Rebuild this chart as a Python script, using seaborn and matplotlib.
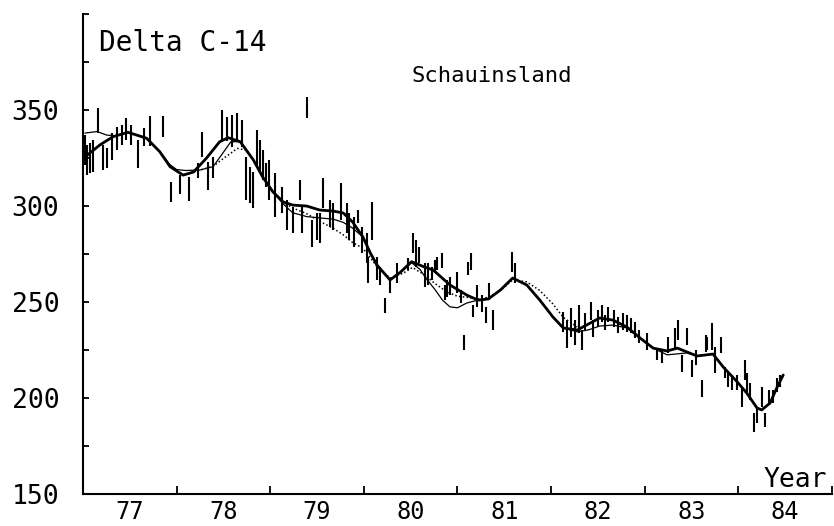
import numpy as np
import pandas as pd
import matplotlib
matplotlib.use("Agg")
import matplotlib.pyplot as plt
import seaborn as sns

# measured samples: year, delta C-14, half length of the bar
obs_year = [77.02, 77.04, 77.07, 77.11, 77.16, 77.21, 77.26, 77.31, 77.36, 77.42,
            77.46, 77.51, 77.59, 77.65, 77.72, 77.85, 77.94, 78.04, 78.13, 78.23,
            78.27, 78.34, 78.39, 78.49, 78.54, 78.59, 78.65, 78.70, 78.74, 78.78,
            78.82, 78.86, 78.89, 78.92, 78.96, 78.99, 79.05, 79.13, 79.18, 79.24,
            79.32, 79.34, 79.39, 79.45, 79.50, 79.53, 79.56, 79.64, 79.67, 79.76,
            79.82, 79.84, 79.89, 79.94, 79.98, 80.03, 80.09, 80.04, 80.14, 80.17,
            80.23, 80.28, 80.35, 80.47, 80.53, 80.56, 80.59, 80.65, 80.69, 80.73,
            80.76, 80.78, 80.84, 80.87, 80.89, 80.92, 81.00, 81.04, 81.07, 81.11,
            81.14, 81.17, 81.21, 81.26, 81.31, 81.34, 81.38, 81.58, 81.62, 82.13,
            82.17, 82.21, 82.26, 82.30, 82.33, 82.36, 82.43, 82.45, 82.50, 82.54,
            82.58, 82.61, 82.67, 82.72, 82.77, 82.81, 82.85, 82.90, 82.94, 83.03,
            83.13, 83.18, 83.25, 83.32, 83.36, 83.40, 83.45, 83.51, 83.55, 83.61,
            83.65, 83.67, 83.72, 83.75, 83.81, 83.86, 83.89, 83.93, 83.99, 84.04,
            84.07, 84.09, 84.13, 84.17, 84.20, 84.25, 84.29, 84.33, 84.37, 84.41,
            84.45]
obs_delta = [329.2, 324.0, 325.0, 326.1, 344.5, 325.3, 325.0, 331.0, 335.2, 337.0,
             340.1, 337.0, 327.1, 336.0, 339.1, 341.4, 307.3, 311.2, 308.9, 318.5,
             332.0, 315.6, 320.1, 342.2, 340.1, 339.1, 340.9, 337.8, 314.3, 310.9,
             308.3, 330.0, 325.8, 321.4, 316.2, 313.5, 305.7, 303.1, 295.3, 292.7,
             308.3, 292.7, 351.3, 285.7, 289.3, 288.5, 306.8, 296.1, 294.5, 302.4,
             293.8, 289.3, 286.5, 294.5, 282.3, 278.1, 292.2, 266.7, 267.5, 263.5,
             248.2, 258.6, 265.1, 269.8, 280.7, 275.3, 274.5, 264.1, 264.6, 264.9,
             268.5, 270.1, 271.6, 254.9, 257.0, 258.3, 260.2, 252.9, 228.9, 267.5,
             271.1, 245.3, 253.1, 249.2, 243.2, 255.5, 240.6, 270.9, 265.1, 239.6,
             233.3, 239.3, 234.1, 241.2, 230.2, 239.9, 245.3, 236.2, 241.4, 244.0,
             239.3, 243.5, 241.4, 238.0, 239.9, 238.8, 237.8, 235.4, 232.0, 229.4,
             222.9, 221.6, 227.6, 230.7, 235.4, 218.0, 232.0, 215.4, 221.1, 205.0,
             228.4, 228.4, 232.0, 219.8, 227.6, 213.3, 209.4, 208.1, 208.1, 200.5,
             214.6, 207.8, 203.4, 187.3, 191.2, 200.5, 188.6, 200.8, 200.8, 206.8,
             208.9]
obs_err = [7.8, 7.8, 7.8, 8.3, 6.5, 6.5, 5.2, 7.0, 6.0, 5.2,
           5.7, 5.2, 7.3, 4.7, 7.8, 5.5, 5.2, 4.9, 6.3, 3.9,
           6.5, 7.3, 5.5, 7.8, 6.3, 8.3, 7.6, 7.0, 11.2, 9.4,
           9.4, 9.6, 8.6, 7.8, 6.3, 10.4, 11.5, 6.8, 7.8, 6.8,
           5.2, 6.8, 5.5, 7.0, 7.0, 7.8, 7.8, 7.0, 7.0, 9.6,
           7.8, 7.0, 7.8, 3.4, 6.8, 7.8, 9.9, 6.8, 6.0, 4.7,
           3.9, 3.9, 5.2, 3.1, 5.2, 7.0, 4.2, 6.3, 5.7, 3.4,
           3.4, 3.4, 3.9, 3.9, 4.4, 4.7, 5.5, 3.4, 3.9, 3.4,
           4.4, 3.1, 5.7, 4.4, 4.2, 4.4, 5.2, 5.2, 5.2, 5.2,
           7.3, 7.6, 6.5, 7.3, 5.2, 4.4, 4.7, 4.4, 4.4, 4.4,
           3.9, 3.9, 4.4, 4.2, 4.4, 4.4, 3.9, 4.2, 3.4, 4.4,
           3.1, 3.4, 4.2, 5.7, 5.2, 4.4, 4.4, 4.4, 3.9, 4.4,
           4.4, 3.4, 7.0, 6.8, 4.2, 2.9, 3.6, 3.9, 3.9, 5.2,
           5.2, 5.2, 4.4, 4.9, 4.2, 5.2, 3.6, 3.4, 3.4, 3.6,
           3.1]

# main fit (thick line)
fit_year = [77.02, 77.18, 77.32, 77.48, 77.68, 77.82, 77.93, 78.07, 78.18, 78.32,
            78.46, 78.55, 78.68, 78.82, 78.92, 79.03, 79.14, 79.24, 79.39, 79.53,
            79.67, 79.78, 79.88, 79.99, 80.07, 80.14, 80.28, 80.39, 80.51, 80.65,
            80.74, 80.92, 81.10, 81.22, 81.33, 81.46, 81.59, 81.74, 81.88, 82.02,
            82.13, 82.28, 82.34, 82.52, 82.66, 82.81, 82.95, 83.09, 83.24, 83.35,
            83.45, 83.56, 83.73, 83.84, 83.99, 84.09, 84.20, 84.25, 84.34, 84.41,
            84.48]
fit_delta = [325.5, 331.8, 336.1, 338.4, 335.3, 328.3, 320.5, 316.1, 317.7, 325.0,
             333.5, 335.6, 333.5, 324.0, 315.1, 307.3, 302.1, 300.5, 300.0, 297.9,
             297.4, 296.4, 291.7, 283.9, 275.5, 269.3, 261.5, 265.5, 271.0, 268.2,
             266.7, 258.9, 253.6, 251.0, 251.6, 256.3, 262.5, 258.9, 251.0, 242.2,
             236.5, 235.4, 237.0, 241.7, 240.6, 237.0, 231.3, 226.0, 224.5, 226.0,
             224.0, 221.9, 222.9, 216.1, 208.3, 202.6, 194.8, 193.8, 197.4, 205.2,
             212.0]

# second fit (thin line)
fit2_year = [77.02, 77.15, 77.25, 77.35, 77.48, 77.68, 77.82, 77.93, 78.00, 78.10,
             78.25, 78.39, 78.50, 78.58, 78.68, 78.82, 78.92, 79.03, 79.14, 79.24,
             79.39, 79.53, 79.67, 79.78, 79.88, 79.99, 80.07, 80.14, 80.28, 80.39,
             80.51, 80.60, 80.67, 80.76, 80.84, 80.92, 81.00, 81.10, 81.22, 81.33,
             81.46, 81.59, 81.74, 81.88, 82.02, 82.13, 82.28, 82.40, 82.52, 82.66,
             82.81, 82.95, 83.09, 83.24, 83.35, 83.45, 83.56, 83.73, 83.84, 83.99,
             84.09, 84.20, 84.25, 84.34, 84.41, 84.48]
fit2_delta = [338.0, 338.8, 337.0, 336.5, 338.4, 335.3, 328.5, 321.5, 319.0, 318.5,
              318.8, 320.5, 328.0, 333.5, 333.5, 324.0, 315.1, 307.3, 301.0, 296.5,
              294.5, 293.8, 293.2, 291.5, 288.5, 283.9, 275.5, 269.3, 261.5, 265.5,
              270.5, 267.0, 262.0, 256.5, 251.0, 247.5, 247.0, 249.5, 251.0, 251.6,
              256.3, 262.5, 258.9, 251.0, 242.2, 236.5, 234.5, 235.5, 237.5, 238.0,
              236.5, 231.3, 226.0, 222.5, 223.0, 223.5, 221.9, 222.9, 216.1, 208.3,
              202.6, 194.8, 193.8, 197.4, 205.2, 212.0]

# third fit (dotted line)
fit3_year = [78.07, 78.20, 78.39, 78.52, 78.65, 78.75, 78.82, 78.92, 79.03, 79.14,
             79.24, 79.39, 79.53, 79.67, 79.78, 79.88, 79.99, 80.07, 80.14, 80.28,
             80.42, 80.52, 80.65, 80.75, 80.89, 81.00, 81.10, 81.22, 81.33, 81.46,
             81.59, 81.74, 81.88, 82.02, 82.13, 82.28]
fit3_delta = [316.1, 318.0, 320.7, 325.5, 330.0, 329.0, 324.0, 315.1, 307.3, 302.1,
              299.0, 296.0, 292.0, 288.5, 285.0, 281.0, 278.0, 273.0, 268.5, 262.5,
              265.0, 268.0, 264.0, 260.0, 255.2, 253.0, 252.5, 251.5, 252.5, 256.0,
              261.5, 260.5, 256.0, 249.0, 242.0, 237.0]

year_ticks = [77, 78, 79, 80, 81, 82, 83, 84, 85]
year_labels = ["77", "78", "79", "80", "81", "82", "83", "84"]
delta_ticks = [150, 175, 200, 225, 250, 275, 300, 325, 350, 375, 400]
delta_labels = ["150", "", "200", "", "250", "", "300", "", "350", "", ""]

sns.set_style("white")
plt.rcParams["font.family"] = ["DejaVu Sans Mono", "DejaVu Sans"]

fig = plt.figure(figsize=(8.34, 5.26), dpi=100)
ax = fig.add_axes([0.0995, 0.0608, 0.898, 0.9125])

ax.vlines(obs_year, np.array(obs_delta) - np.array(obs_err),
          np.array(obs_delta) + np.array(obs_err), color="black", linewidth=1.5)

fit = pd.DataFrame({"year": fit_year, "delta": fit_delta})
fit2 = pd.DataFrame({"year": fit2_year, "delta": fit2_delta})
fit3 = pd.DataFrame({"year": fit3_year, "delta": fit3_delta})
sns.lineplot(data=fit3, x="year", y="delta", ax=ax, color="black",
             linewidth=1.1, linestyle=(0, (1, 1.5)), estimator=None)
sns.lineplot(data=fit2, x="year", y="delta", ax=ax, color="black",
             linewidth=0.9, estimator=None)
sns.lineplot(data=fit, x="year", y="delta", ax=ax, color="black",
             linewidth=2.0, estimator=None)

ax.set_xlim(77, 85)
ax.set_ylim(150, 400)
ax.set_xlabel("")
ax.set_ylabel("")

for side in ["top", "right"]:
    ax.spines[side].set_visible(False)
for side in ["left", "bottom"]:
    ax.spines[side].set_color("black")
    ax.spines[side].set_linewidth(1.5)

ax.set_xticks(year_ticks)
ax.set_xticklabels([])
ax.set_xticks([y + 0.5 for y in year_ticks[:-1]], minor=True)
ax.set_xticklabels(year_labels, minor=True)
ax.tick_params(axis="x", which="major", bottom=True, direction="in", length=6,
               width=1.3, color="black")
ax.tick_params(axis="x", which="minor", bottom=True, length=0, pad=4,
               labelsize=17, labelcolor="black")

ax.set_yticks(delta_ticks)
ax.set_yticklabels(delta_labels)
ax.tick_params(axis="y", left=True, direction="in", length=4, width=1.3,
               color="black", pad=17, labelsize=19, labelcolor="black")

ax.text(0.022, 0.94, "Delta C-14", transform=ax.transAxes, fontsize=20,
        ha="left", va="center", color="black")
ax.text(0.439, 0.871, "Schauinsland", transform=ax.transAxes, fontsize=16,
        ha="left", va="center", color="black")
ax.text(0.993, 0.03, "Year", transform=ax.transAxes, fontsize=19,
        ha="right", va="center", color="black")

fig.savefig("out.png", dpi=100)
